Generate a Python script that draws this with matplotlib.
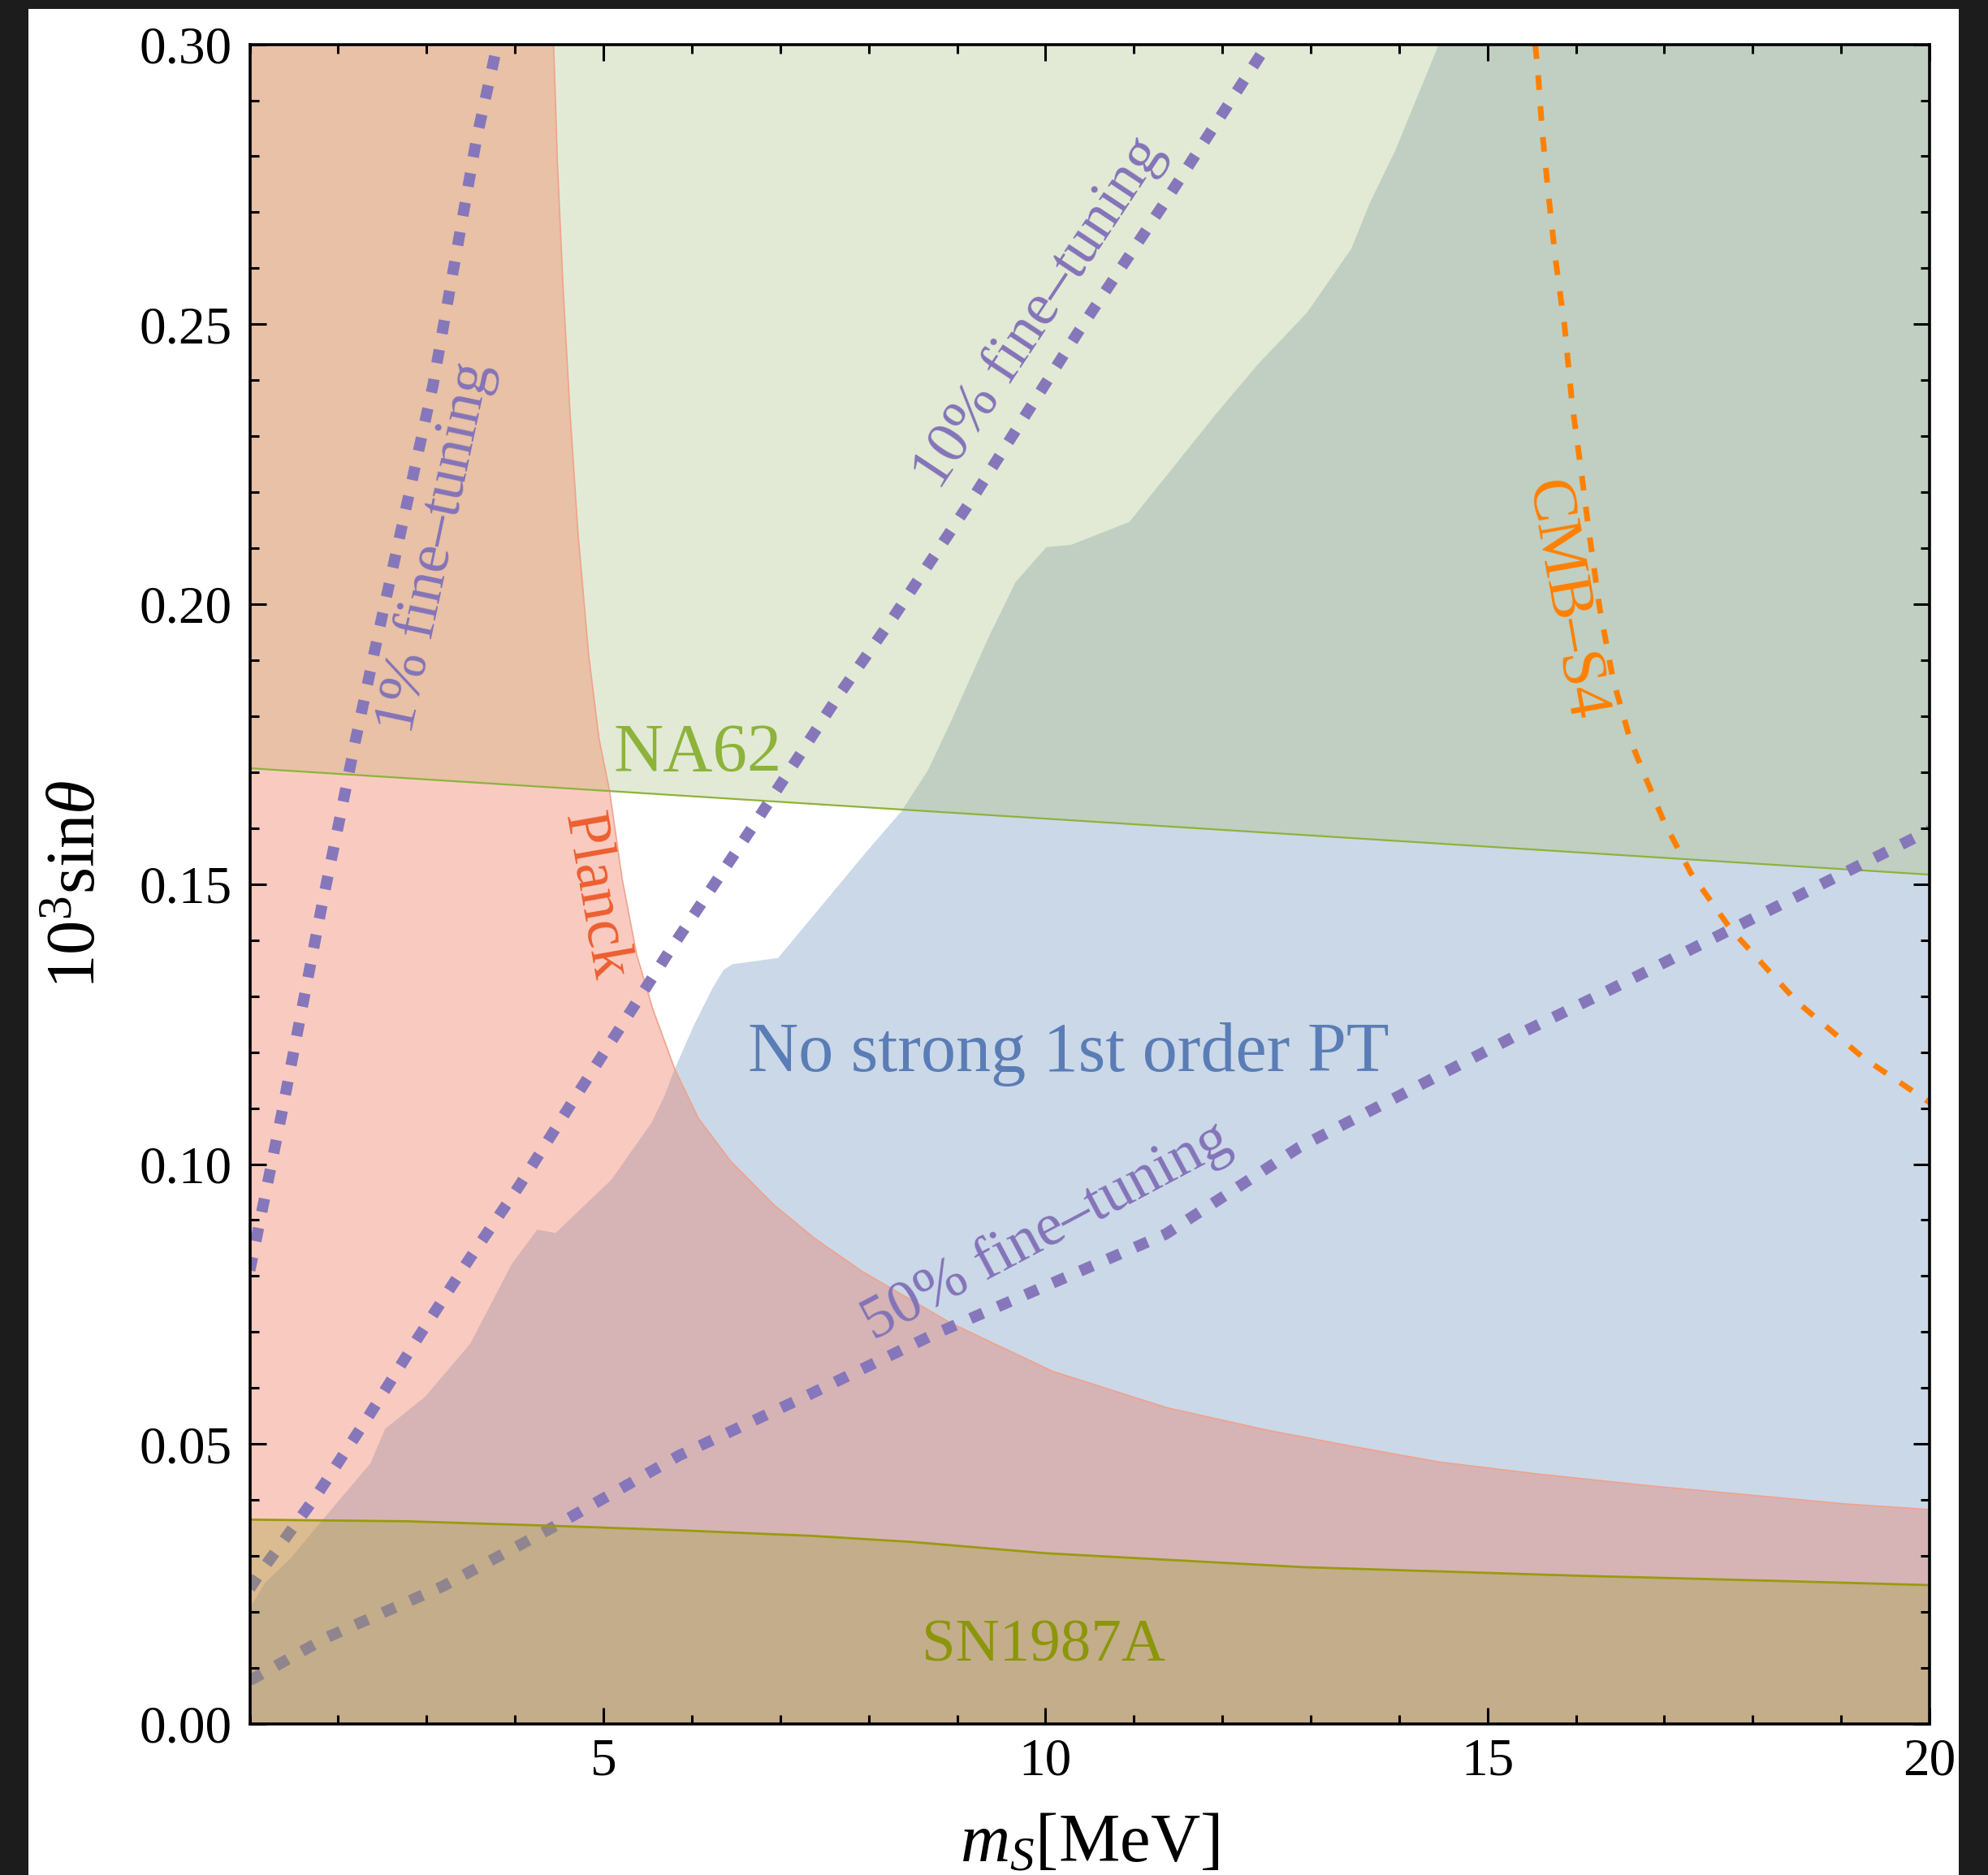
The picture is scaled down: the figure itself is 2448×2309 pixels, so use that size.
import matplotlib
matplotlib.use('Agg')
import matplotlib.pyplot as plt
from matplotlib.patches import Polygon, Rectangle
from matplotlib.ticker import MultipleLocator, FormatStrFormatter

plt.rcParams['font.family'] = ['Liberation Serif', 'DejaVu Serif']
plt.rcParams['mathtext.fontset'] = 'custom'
plt.rcParams['mathtext.rm'] = 'Liberation Serif'
plt.rcParams['mathtext.it'] = 'Liberation Serif:italic'

# ---------------- data (m_S in MeV, 10^3 sin(theta)) ----------------
na62_x = [1.0, 20.0]
na62_y = [0.1707, 0.1517]

sn_x = [1.0, 2.78, 4.42, 5.85, 7.36, 8.5, 10.0, 12.93, 15.98, 18.17, 20.0]
sn_y = [0.0365, 0.0362, 0.0354, 0.0346, 0.0336, 0.0325, 0.0305, 0.0280, 0.0265, 0.0256, 0.0248]

planck_x = [4.437, 4.48, 4.543, 4.62, 4.712, 4.834, 4.95, 5.068, 5.211, 5.376, 5.56, 5.806,
            6.073, 6.44, 6.93, 7.4, 7.93, 8.93, 10.08, 11.37, 12.5, 13.5, 14.45, 15.54,
            16.86, 18.17, 19.05, 20.0]
planck_y = [0.300, 0.2787, 0.2567, 0.2348, 0.2128, 0.1908, 0.176, 0.1668, 0.151, 0.1374, 0.1276, 0.117,
            0.1082, 0.1005, 0.0927, 0.0866, 0.0808, 0.0716, 0.0630, 0.0565, 0.0525, 0.0495, 0.0468, 0.0447,
            0.0425, 0.0406, 0.0393, 0.0383]

pt_x = [1.0, 1.176, 1.463, 1.874, 2.366, 2.53, 2.98, 3.493, 3.965, 4.252, 4.458, 5.09, 5.544, 5.688,
        5.806, 6.03, 6.237, 6.36, 6.46, 6.975, 7.55, 7.96, 8.37, 8.67, 8.935, 9.354, 9.66, 10.01,
        10.29, 10.95, 11.93, 12.40, 12.96, 13.46, 13.67, 13.95, 14.45]
pt_y = [0.0207, 0.0253, 0.0296, 0.0374, 0.0466, 0.0527, 0.0584, 0.0679, 0.0822, 0.0883, 0.0877, 0.0972,
        0.1074, 0.1121, 0.117, 0.125, 0.1315, 0.1347, 0.1357, 0.1368, 0.1477, 0.1555, 0.163, 0.1703,
        0.1792, 0.194, 0.2039, 0.2102, 0.2106, 0.2147, 0.234, 0.2428, 0.2521, 0.2635, 0.2717, 0.2808, 0.300]

ft1_x = [1.0, 1.073, 1.361, 1.818, 2.033, 2.186, 2.46, 2.767, 3.073, 3.318, 3.564, 3.80]
ft1_y = [0.081, 0.0866, 0.109, 0.1464, 0.1629, 0.175, 0.1952, 0.2172, 0.2392, 0.2611, 0.2831, 0.300]

ft10_x = [1.0, 1.135, 1.75, 2.325, 2.899, 3.473, 4.047, 4.62, 5.745, 6.72, 7.673, 8.28, 9.216,
          10.37, 11.33, 12.51]
ft10_y = [0.0242, 0.0274, 0.0407, 0.0545, 0.0689, 0.0828, 0.0961, 0.1104, 0.138, 0.161, 0.184,
          0.1977, 0.2199, 0.2486, 0.2713, 0.300]

ft50_x = [1.0, 1.05, 1.865, 3.184, 4.40, 5.85, 7.245, 8.74, 11.36, 12.87, 15.38, 16.24, 20.0]
ft50_y = [0.0078, 0.0082, 0.0154, 0.0246, 0.0349, 0.0479, 0.0582, 0.0696, 0.0875, 0.103, 0.1234,
          0.130, 0.1596]

cmb_x = [15.54, 15.57, 15.62, 15.69, 15.77, 15.87, 15.96, 16.06, 16.15, 16.27, 16.42, 16.61, 16.76,
         17.0, 17.3, 17.75, 18.5, 19.25, 20.0]
cmb_y = [0.300, 0.2951, 0.2843, 0.2731, 0.2615, 0.2499, 0.2354, 0.2238, 0.2127, 0.1992, 0.1866, 0.176,
         0.1701, 0.161, 0.152, 0.142, 0.129, 0.119, 0.111]

x_ticks = [5, 10, 15, 20]
y_ticks = [0.00, 0.05, 0.10, 0.15, 0.20, 0.25, 0.30]
XMIN, XMAX, YMIN, YMAX = 1.0, 20.0, 0.0, 0.30

# ---------------- colours ----------------
c_pt = '#cbd8e8'      # no strong PT alone
c_pl = '#f9cbc0'      # Planck alone
c_na = '#e2ead5'      # NA62 alone
c_pl_pt = '#d6b4b5'
c_na_pt = '#c0cfc1'
c_na_pl = '#e8c1a6'
c_sn = '#a5a03c'
c_ft = '#8677bb'

fig = plt.figure(figsize=(24.48, 23.09), dpi=100, facecolor='#1c1c1c')
fig.patches.append(Rectangle((35 / 2448, 0), (2412 - 35) / 2448, 1 - 11 / 2309,
                             transform=fig.transFigure, facecolor='white',
                             edgecolor='none', zorder=-5))
ax = fig.add_axes([307.6 / 2448, 1 - 2123 / 2309, (2376 - 307.6) / 2448, (2123 - 54.6) / 2309])
ax.set_xlim(XMIN, XMAX)
ax.set_ylim(YMIN, YMAX)
ax.set_facecolor('white')

pt_poly = list(zip(pt_x, pt_y)) + [(XMAX, YMAX), (XMAX, YMIN), (XMIN, YMIN)]
pl_poly = list(zip(planck_x, planck_y)) + [(XMAX, YMIN), (XMIN, YMIN), (XMIN, YMAX)]
na_poly = list(zip(na62_x, na62_y)) + [(XMAX, YMAX), (XMIN, YMAX)]
sn_poly = list(zip(sn_x, sn_y)) + [(XMAX, YMIN), (XMIN, YMIN)]


def clip_patch(poly):
    return Polygon(poly, closed=True, transform=ax.transData)


ax.add_patch(Polygon(pt_poly, closed=True, fc=c_pt, ec='none', zorder=1))
ax.add_patch(Polygon(pl_poly, closed=True, fc=c_pl, ec='none', zorder=2))
p = ax.add_patch(Polygon(pl_poly, closed=True, fc=c_pl_pt, ec='none', zorder=3))
p.set_clip_path(clip_patch(pt_poly))
ax.add_patch(Polygon(na_poly, closed=True, fc=c_na, ec='none', zorder=4))
p = ax.add_patch(Polygon(na_poly, closed=True, fc=c_na_pt, ec='none', zorder=5))
p.set_clip_path(clip_patch(pt_poly))
p = ax.add_patch(Polygon(na_poly, closed=True, fc=c_na_pl, ec='none', zorder=5))
p.set_clip_path(clip_patch(pl_poly))

# boundary lines
ax.plot(planck_x, planck_y, color='#f0a28c', lw=1.2, zorder=6)
ax.plot(na62_x, na62_y, color='#8db33a', lw=1.6, zorder=6)

# fine-tuning lines
for fx, fy in [(ft1_x, ft1_y), (ft10_x, ft10_y), (ft50_x, ft50_y)]:
    ax.plot(fx, fy, color=c_ft, lw=10, linestyle=(0, (1.2, 1.45)),
            dash_capstyle='butt', zorder=7)
ax.plot(cmb_x, cmb_y, color='#ff8000', lw=5, linestyle=(0, (2.6, 2.9)),
        dash_capstyle='butt', zorder=7)

# SN1987A (semi-transparent, above lines)
ax.add_patch(Polygon(sn_poly, closed=True, fc=c_sn, ec='none', alpha=0.35, zorder=8))
ax.plot(sn_x, sn_y, color='#9a9a10', lw=2, zorder=9)

# labels
ax.text(6.07, 0.1701, 'NA62', color='#8db33a', fontsize=61, ha='center', va='baseline', zorder=10)
ax.text(4.90, 0.1478, 'Planck', color='#ec5f30', fontsize=55, rotation=-80,
        ha='center', va='center', rotation_mode='anchor', zorder=10)
ax.text(3.107, 0.210, '1% fine\u2013tuning', color='#8474b8', fontsize=54, rotation=78,
        ha='center', va='center', rotation_mode='anchor', zorder=10)
ax.text(9.935, 0.252, '10% fine\u2013tuning', color='#8474b8', fontsize=54, rotation=56.5,
        ha='center', va='center', rotation_mode='anchor', zorder=10)
ax.text(10.01, 0.0879, '50% fine\u2013tuning', color='#8474b8', fontsize=54, rotation=28,
        ha='center', va='center', rotation_mode='anchor', zorder=10)
ax.text(15.87, 0.2006, 'CMB\u2013S4', color='#ff8000', fontsize=57, rotation=-80,
        ha='center', va='center', rotation_mode='anchor', zorder=10)
ax.text(6.635, 0.1166, 'No strong 1st order PT', color='#5a7db5', fontsize=62,
        ha='left', va='baseline', zorder=10)
ax.text(9.98, 0.0113, 'SN1987A', color='#8c960a', fontsize=54, ha='center', va='baseline', zorder=10)

# axes styling
ax.xaxis.set_major_locator(MultipleLocator(5))
ax.xaxis.set_minor_locator(MultipleLocator(1))
ax.yaxis.set_major_locator(MultipleLocator(0.05))
ax.yaxis.set_minor_locator(MultipleLocator(0.01))
ax.set_xticks(x_ticks)
ax.set_yticks(y_ticks)
ax.xaxis.set_major_formatter(FormatStrFormatter('%d'))
ax.yaxis.set_major_formatter(FormatStrFormatter('%.2f'))
ax.tick_params(which='both', direction='in', top=True, right=True, width=2.2, color='black')
ax.tick_params(which='major', length=14.5, labelsize=47)
ax.tick_params(which='minor', length=8)
ax.tick_params(axis='y', pad=16)
ax.tick_params(axis='x', pad=12)
for s in ax.spines.values():
    s.set_linewidth(2.6)
    s.set_zorder(20)
ax.xaxis.set_zorder(20)
ax.yaxis.set_zorder(20)

ax.set_xlabel(r'$m_S$[MeV]', fontsize=61)
ax.set_ylabel(r'10$^3$sin$\theta$', fontsize=61)
ax.xaxis.set_label_coords(0.5, -0.053)
ax.yaxis.set_label_coords(-0.0834, 0.5)

fig.savefig('out.png', dpi=100, facecolor=fig.get_facecolor())
